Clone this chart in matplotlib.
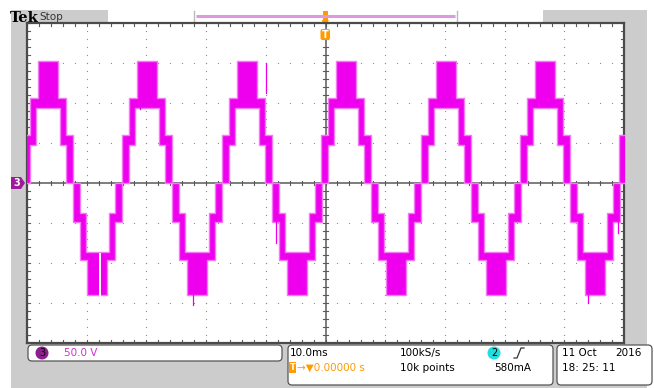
"""Tek scope capture: 7-level inverter output voltage, CH3."""

import matplotlib

matplotlib.use("Agg")
import matplotlib.pyplot as plt
import numpy as np
from matplotlib.patches import Circle, FancyBboxPatch, Polygon, Rectangle

# centres of the positive / negative half cycles on screen (ms)
pos_centers_ms = [-46.5, -29.9, -13.1, 3.4, 20.2, 36.8, 53.4]
neg_centers_ms = [-38.2, -21.5, -4.8, 11.8, 28.6, 45.2]

# staircase edges measured from a half-cycle centre (ms):
# zero crossing, step 1->2, end of flat level 2, PWM block between level 2 and 3
step_edges_ms = [4.17, 3.0, 2.0, 1.68]

# band edges of each level (V)
pos_band1 = [47, 60]
pos_band2 = [94, 106]
pos_peak = 152
neg_band1 = [-38, -49]
neg_band2 = [-86, -96]
neg_peak = -140

# odd glitches: (time ms, from V, to V)
spikes = [(-8.3, -43, -75), (49.0, -43, -62), (-22.2, -140, -152), (43.9, -140, -150),
          (-31.0, 100, 92), (-9.9, 150, 112)]
# thin white gap seen in the first negative bottom block (ms)
block_gap_ms = [-37.9, -37.6]

MAG = "#EE00EE"
MAG_EDGE = "#F27AF2"
ORANGE = "#FF9A00"
GRID = "#8C8C8C"
LINE = "#5A5A5A"

fig = plt.figure(figsize=(6.54, 3.88), dpi=100)
fig.patch.set_facecolor("white")

# ---- screen furniture in pixel coordinates ----
ui = fig.add_axes([0, 0, 1, 1], zorder=0)
ui.set_xlim(0, 654)
ui.set_ylim(388, 0)
ui.axis("off")
ui.add_patch(Rectangle((11, 10), 636, 378, fc="#CCCCCC", ec="none"))
ui.add_patch(Rectangle((108, 10), 435, 12.5, fc="white", ec="none"))
ui.plot([196, 455], [15.5, 15.5], color="#DD99DD", lw=2.2, solid_capstyle="butt")
for bx in (194, 457):
    ui.plot([bx, bx], [11, 21], color="#BBBBBB", lw=1)
ui.text(10, 17.5, "Tek", fontsize=10.5, fontweight="bold", family="DejaVu Serif", va="center")
ui.text(39, 16.5, "Stop", fontsize=7.5, color="#333333", va="center")

# trigger position marker in the record bar
ui.add_patch(Rectangle((322.5, 11), 5.5, 9, fc=ORANGE, ec="none"))
ui.add_patch(Polygon([[321.5, 20], [329, 20], [325.2, 26]], closed=True, fc=ORANGE, ec="none"))

# status boxes
box_kw = dict(boxstyle="round,pad=0,rounding_size=4", fc="white", ec="#555555", lw=0.9)
ui.add_patch(FancyBboxPatch((28, 345), 254, 16, **box_kw))
ui.add_patch(FancyBboxPatch((288, 345), 265, 40, **box_kw))
ui.add_patch(FancyBboxPatch((557, 345), 95, 40, **box_kw))

ui.add_patch(Circle((42, 353), 6.5, fc="#8E1E8E", ec="none"))
ui.text(42, 353.5, "3", fontsize=7, ha="center", va="center", color="black")
ui.text(64, 353, "50.0 V", fontsize=7.5, va="center", color="#CC33CC")

ui.text(290, 353, "10.0ms", fontsize=7.5, va="center")
ui.text(400, 353, "100kS/s", fontsize=7.5, va="center")
ui.add_patch(Circle((494, 353), 6.5, fc="#22DDDD", ec="none"))
ui.text(494, 353.5, "2", fontsize=7, ha="center", va="center", color="black")
ui.plot([514, 517, 521, 524], [358, 358, 348, 348], color="#333333", lw=0.9)

ui.add_patch(Rectangle((289, 362), 7, 11, fc=ORANGE, ec="none"))
ui.text(292.5, 367.5, "T", fontsize=6, ha="center", va="center", color="white", fontweight="bold")
ui.text(297, 368, "\u2192\u25bc0.00000 s", fontsize=7.5, va="center", color=ORANGE)
ui.text(400, 368, "10k points", fontsize=7.5, va="center")
ui.text(494, 368, "580mA", fontsize=7.5, va="center")

ui.text(562, 353, "11 Oct", fontsize=7.5, va="center")
ui.text(615, 353, "2016", fontsize=7.5, va="center")
ui.text(562, 368, "18: 25: 11", fontsize=7.5, va="center")

# ---- graticule ----
ax = fig.add_axes([27 / 654, 45 / 388, 597 / 654, 320 / 388], zorder=1)
ax.set_xlim(-50, 50)
ax.set_ylim(-200, 200)
ax.set_xticks([])
ax.set_yticks([])
for s in ax.spines.values():
    s.set_color("#4A4A4A")
    s.set_linewidth(1.6)

minor_x = np.arange(-50, 50.1, 2)
minor_y = np.arange(-200, 200.1, 10)
for gx in range(-40, 41, 10):
    if gx != 0:
        ax.plot(np.full_like(minor_y, gx), minor_y, ls="none", marker="s", ms=0.8,
                mew=0, color=GRID, zorder=1)
for gy in (-150, -100, -50, 50, 100, 150):
    ax.plot(minor_x, np.full_like(minor_x, gy), ls="none", marker="s", ms=0.8,
            mew=0, color=GRID, zorder=1)

ax.axhline(0, color=LINE, lw=1.1, zorder=2)
ax.axvline(0, color=LINE, lw=1.1, zorder=2)
for mx in minor_x:
    ax.plot([mx, mx], [-2.5, 2.5], color=LINE, lw=0.8, zorder=2)
    ax.plot([mx, mx], [200, 196], color=LINE, lw=0.8, zorder=2)
    ax.plot([mx, mx], [-200, -196], color=LINE, lw=0.8, zorder=2)
for my in minor_y:
    ax.plot([-0.35, 0.35], [my, my], color=LINE, lw=0.8, zorder=2)
    ax.plot([-50, -49.5], [my, my], color=LINE, lw=0.8, zorder=2)
    ax.plot([50, 49.5], [my, my], color=LINE, lw=0.8, zorder=2)


# ---- the trace ----
def half_cycle(center, band1, band2, peak):
    e0, e1, e2, e3 = step_edges_ms
    t = center + np.array([-e0, -e1, -e2, -e3, e3, e2, e1, e0])
    outer = [band1[1], band2[1], band2[1], peak, band2[1], band2[1], band1[1], band1[1]]
    inner = [0, band1[0], band2[0], band2[0], band2[0], band1[0], 0, 0]
    ax.fill_between(t, inner, outer, step="post", color=MAG, ec=MAG_EDGE, lw=1.0, zorder=3)


for c in pos_centers_ms:
    half_cycle(c, pos_band1, pos_band2, pos_peak)
for c in neg_centers_ms:
    half_cycle(c, neg_band1, neg_band2, neg_peak)

for t, v0, v1 in spikes:
    ax.plot([t, t], [v0, v1], color=MAG, lw=0.9, zorder=3)
ax.fill_between(block_gap_ms, [neg_band2[0] - 2] * 2, [neg_peak - 1] * 2, color="white",
                lw=0, zorder=3)

# markers drawn over the graticule edge
ax.add_patch(FancyBboxPatch((320.5, 29), 9.5, 11, boxstyle="round,pad=0,rounding_size=2",
                            fc=ORANGE, ec="none", transform=ui.transData, clip_on=False,
                            zorder=5))
ax.text(325.2, 34.8, "T", fontsize=7, ha="center", va="center", color="white",
        fontweight="bold", transform=ui.transData, zorder=6)
ax.add_patch(Polygon([[11, 177], [21, 177], [25, 183], [21, 189], [11, 189]], closed=True,
                     fc="#9C1C9C", ec="none", transform=ui.transData, clip_on=False, zorder=5))
ax.text(17, 183.5, "3", fontsize=7, ha="center", va="center", color="white",
        fontweight="bold", transform=ui.transData, zorder=6)

fig.savefig("out.png", dpi=100)
plt.close(fig)
